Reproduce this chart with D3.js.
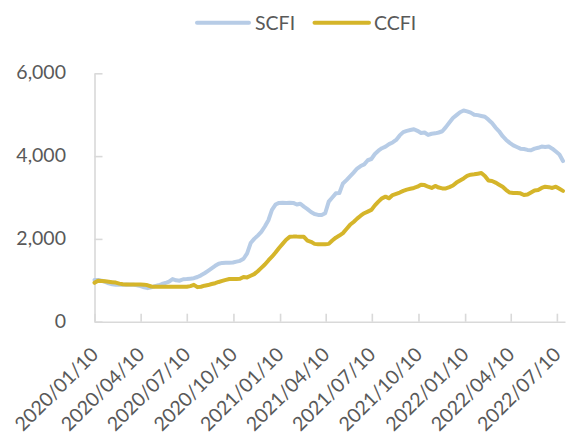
<!DOCTYPE html>
<html>
<head>
<meta charset="utf-8">
<script src="https://cdn.jsdelivr.net/npm/d3@7"></script>
<style>
  html, body { margin: 0; padding: 0; background: #fff; }
  svg { display: block; font-family: Lato, "Liberation Sans", sans-serif; }
</style>
</head>
<body>
<svg id="chart" width="566" height="435"></svg>
<script>
// ---- data ----
const firstWeek = "2020-01-10";            // weekly (Friday) observations
const axisEnd = "2022-07-26";
const seriesNames = ["SCFI", "CCFI"];
const scfi = [
  1010, 1005, 990, 960, 925, 905, 895, 890, 890, 900,
  895, 890, 880, 860, 830, 810, 830, 860, 880, 910,
  935, 970, 1030, 1000, 990, 1025, 1030, 1040, 1050, 1080,
  1120, 1170, 1230, 1290, 1350, 1400, 1420, 1425, 1425, 1430,
  1450, 1470, 1520, 1650, 1900, 2000, 2080, 2170, 2300, 2450,
  2700, 2830, 2870, 2875, 2870, 2875, 2870, 2830, 2850, 2780,
  2720, 2650, 2600, 2580, 2575, 2620, 2900, 3000, 3100, 3110,
  3340, 3420, 3510, 3600, 3700, 3760, 3800, 3900, 3930, 4050,
  4130, 4190, 4230, 4290, 4330, 4390, 4500, 4580, 4610, 4630,
  4650, 4610, 4560, 4570, 4510, 4540, 4550, 4570, 4600, 4700,
  4810, 4920, 4990, 5060, 5100, 5080, 5050, 5000, 4990, 4970,
  4950, 4880, 4800, 4690, 4600, 4480, 4390, 4320, 4260, 4220,
  4180, 4170, 4150, 4140, 4180, 4200, 4230, 4220, 4230, 4180,
  4110, 4040, 3880
];
const ccfi = [
  940, 990, 985, 975, 965, 955, 945, 920, 905, 900,
  900, 900, 900, 900, 895, 880, 850, 845, 845, 845,
  845, 845, 845, 845, 845, 845, 845, 860, 890, 835,
  845, 870, 885, 910, 930, 960, 985, 1010, 1030, 1030,
  1030, 1035, 1080, 1070, 1110, 1150, 1220, 1300, 1380, 1480,
  1570, 1670, 1780, 1880, 1980, 2050, 2055, 2055, 2050, 2050,
  1960, 1930, 1880, 1870, 1870, 1870, 1880, 1960, 2030, 2080,
  2140, 2240, 2340, 2410, 2490, 2560, 2620, 2660, 2700, 2810,
  2900, 2980, 3020, 2980, 3060, 3090, 3120, 3160, 3190, 3210,
  3230, 3260, 3310, 3300, 3260, 3230, 3280, 3240, 3220, 3220,
  3250, 3290, 3360, 3410, 3460, 3520, 3550, 3560, 3575, 3590,
  3520, 3410, 3400, 3360, 3310, 3260, 3180, 3120, 3110, 3110,
  3100, 3060, 3070, 3120, 3170, 3180, 3230, 3260, 3250, 3230,
  3260, 3210, 3160
];
const yTicks = [0, 2000, 4000, 6000];
const xTickLabels = ["2020/01/10", "2020/04/10", "2020/07/10", "2020/10/10",
  "2021/01/10", "2021/04/10", "2021/07/10", "2021/10/10",
  "2022/01/10", "2022/04/10", "2022/07/10"];

// ---- build ----
const parse = d3.timeParse("%Y-%m-%d");
const parseTick = d3.timeParse("%Y/%m/%d");
const start = parse(firstWeek);
const dates = scfi.map((_, i) => d3.timeDay.offset(start, 7 * i));
const tickDates = xTickLabels.map(parseTick);

const svg = d3.select("#chart");
const plotL = 94.5, plotR = 565, plotT = 73.3, plotB = 321.7;
const axisColor = "#D9D9D9";
const textColor = "#595959";
const colors = { SCFI: "#B7CCE6", CCFI: "#D5B52A" };
const fontSize = 19.5;

const x = d3.scaleTime().domain([start, parse(axisEnd)]).range([plotL, plotR]);
const y = d3.scaleLinear().domain([0, 6000]).range([plotB, plotT]);

// axes
const xAxis = svg.append("g").attr("transform", `translate(0,${plotB})`)
  .call(d3.axisBottom(x).tickValues(tickDates).tickSize(-8).tickSizeOuter(0).tickFormat(""));
xAxis.select(".domain").attr("stroke", axisColor).attr("stroke-width", 1.6);
xAxis.selectAll(".tick line").attr("stroke", axisColor).attr("stroke-width", 1.6);

const yAxis = svg.append("g").attr("transform", `translate(${plotL},0)`)
  .call(d3.axisLeft(y).tickValues(yTicks).tickSize(-8).tickSizeOuter(0).tickFormat(""));
yAxis.select(".domain").attr("stroke", axisColor).attr("stroke-width", 1.6);
yAxis.selectAll(".tick line").attr("stroke", axisColor).attr("stroke-width", 1.6);

// y labels
svg.append("g").selectAll("text").data(yTicks).join("text")
  .attr("x", 66).attr("y", d => y(d)).attr("dy", "0.3em")
  .attr("text-anchor", "end").attr("fill", textColor).attr("font-size", fontSize)
  .text(d => d3.format(",")(d));

// x labels, rotated
svg.append("g").selectAll("text").data(tickDates).join("text")
  .attr("transform", (d) => `translate(${x(d) + 5},${plotB + 34}) rotate(-45)`)
  .attr("text-anchor", "end").attr("fill", textColor).attr("font-size", fontSize)
  .text((d, i) => xTickLabels[i]);

// lines
const series = { SCFI: scfi, CCFI: ccfi };
const line = d3.line().x((d, i) => x(dates[i])).y(d => y(d));
seriesNames.forEach(name => {
  svg.append("path").datum(series[name])
    .attr("fill", "none").attr("stroke", colors[name]).attr("stroke-width", 4)
    .attr("stroke-linejoin", "round").attr("stroke-linecap", "round")
    .attr("d", line);
});

// legend
const legend = [
  { name: "SCFI", x1: 197, x2: 249, tx: 255 },
  { name: "CCFI", x1: 314.5, x2: 369, tx: 374 }
];
const lg = svg.append("g");
legend.forEach(l => {
  lg.append("line").attr("x1", l.x1).attr("x2", l.x2).attr("y1", 22.7).attr("y2", 22.7)
    .attr("stroke", colors[l.name]).attr("stroke-width", 4).attr("stroke-linecap", "round");
  lg.append("text").attr("x", l.tx).attr("y", 22.7).attr("dy", "0.36em")
    .attr("fill", textColor).attr("font-size", fontSize).text(l.name);
});
</script>
</body>
</html>
